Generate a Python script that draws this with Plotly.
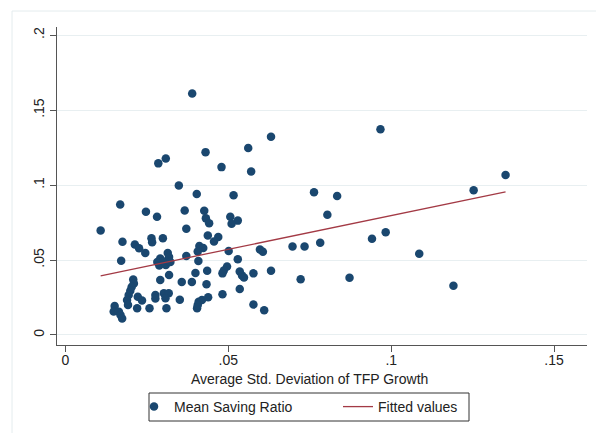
import plotly.graph_objects as go

# Mean Saving Ratio vs Average Std. Deviation of TFP Growth
tfp_sd = [
    0.0389, 0.0967, 0.0631, 0.0561, 0.0430, 0.0308, 0.0285, 0.0479, 0.0570, 0.1351,
    0.0348, 0.1253, 0.0763, 0.0403, 0.0516, 0.0834, 0.0168, 0.0366, 0.0426, 0.0247,
    0.0804, 0.0281, 0.0506, 0.0431, 0.0529, 0.0441, 0.0510, 0.0371, 0.0108, 0.0437,
    0.0469, 0.0456, 0.0264, 0.0266, 0.0299, 0.0175, 0.0213, 0.0226, 0.0245, 0.0411,
    0.0423, 0.0406, 0.0501, 0.0597, 0.0606, 0.0697, 0.0734, 0.0782, 0.0941, 0.0983,
    0.1086, 0.0371, 0.0529, 0.0408, 0.0171, 0.0314, 0.0318, 0.0291, 0.0282, 0.0301,
    0.0288, 0.0308, 0.0322, 0.0496, 0.0486, 0.0482, 0.0435, 0.0399, 0.0535, 0.0542,
    0.0548, 0.0577, 0.0631, 0.0318, 0.0291, 0.0357, 0.0388, 0.0433, 0.0535, 0.0722,
    0.0872, 0.1191, 0.0208, 0.0210, 0.0203, 0.0199, 0.0194, 0.0189, 0.0192, 0.0222,
    0.0235, 0.0276, 0.0276, 0.0302, 0.0317, 0.0307, 0.0351, 0.0409, 0.0419, 0.0438,
    0.0404, 0.0406, 0.0482, 0.0577, 0.0610, 0.0151, 0.0148, 0.0164, 0.0169, 0.0174,
    0.0220, 0.0258, 0.0310,
]
saving_ratio = [
    0.1611, 0.1373, 0.1322, 0.1247, 0.1220, 0.1178, 0.1145, 0.1120, 0.1091, 0.1067,
    0.0998, 0.0965, 0.0953, 0.0940, 0.0933, 0.0927, 0.0871, 0.0831, 0.0829, 0.0822,
    0.0802, 0.0789, 0.0789, 0.0778, 0.0763, 0.0745, 0.0742, 0.0709, 0.0697, 0.0663,
    0.0653, 0.0623, 0.0645, 0.0618, 0.0645, 0.0622, 0.0603, 0.0578, 0.0547, 0.0593,
    0.0580, 0.0557, 0.0560, 0.0571, 0.0555, 0.0591, 0.0591, 0.0615, 0.0642, 0.0685,
    0.0542, 0.0527, 0.0505, 0.0493, 0.0495, 0.0547, 0.0520, 0.0510, 0.0487, 0.0490,
    0.0463, 0.0467, 0.0487, 0.0457, 0.0430, 0.0411, 0.0429, 0.0413, 0.0423, 0.0397,
    0.0383, 0.0411, 0.0429, 0.0400, 0.0367, 0.0353, 0.0353, 0.0339, 0.0307, 0.0371,
    0.0382, 0.0329, 0.0370, 0.0343, 0.0320, 0.0295, 0.0267, 0.0233, 0.0200, 0.0255,
    0.0230, 0.0267, 0.0243, 0.0278, 0.0278, 0.0245, 0.0235, 0.0222, 0.0233, 0.0251,
    0.0178, 0.0200, 0.0272, 0.0203, 0.0165, 0.0193, 0.0157, 0.0155, 0.0133, 0.0110,
    0.0178, 0.0178, 0.0178,
]

# Fitted values line (end points)
fit_x = [0.0108, 0.1351]
fit_y = [0.0395, 0.0955]

x_ticks = [0, 0.05, 0.1, 0.15]
x_tick_labels = ["0", ".05", ".1", ".15"]
y_ticks = [0, 0.05, 0.1, 0.15, 0.2]
y_tick_labels = ["0", ".05", ".1", ".15", ".2"]
x_title = "Average Std. Deviation of TFP Growth"

FONT = "Liberation Sans, Arial, Helvetica, sans-serif"
FS = 14
TXT = "#222"
NAVY = "#1a476f"
MAROON = "#a33a45"

fig = go.Figure()
fig.add_trace(go.Scatter(
    x=tfp_sd, y=saving_ratio, mode="markers", name="Mean Saving Ratio",
    marker=dict(color=NAVY, size=8.5, line=dict(width=0)),
))
fig.add_trace(go.Scatter(
    x=fit_x, y=fit_y, mode="lines", name="Fitted values",
    line=dict(color=MAROON, width=1.3),
))

L, R, T, B = 57, 9, 27, 88
W, H = 596, 433
pw, ph = W - L - R, H - T - B


def px_x(p):
    return (p - L) / pw


def px_y(p):
    return (H - B - p) / ph


fig.update_layout(
    width=W, height=H,
    margin=dict(l=L, r=R, t=T, b=B, pad=0),
    paper_bgcolor="white", plot_bgcolor="white",
    font=dict(family=FONT, size=FS, color=TXT),
    showlegend=True,
    legend=dict(
        orientation="h", x=px_x(134), xanchor="left",
        y=px_y(407), yanchor="middle",
        borderwidth=0, bgcolor="rgba(0,0,0,0)",
        font=dict(family=FONT, size=FS, color=TXT),
        itemwidth=30, entrywidth=159, entrywidthmode="pixels",
    ),
    xaxis=dict(
        range=[-0.0026, 0.1601], tickvals=x_ticks, ticktext=x_tick_labels,
        showgrid=False, zeroline=False, showline=True, linecolor="#555", linewidth=1,
        ticks="outside", ticklen=6, tickcolor="#555", tickwidth=1,
        ticklabelstandoff=-4,
        tickfont=dict(family=FONT, size=FS, color=TXT),
    ),
    yaxis=dict(
        range=[-0.0067, 0.2055], tickvals=y_ticks, ticktext=y_tick_labels,
        showgrid=True, gridcolor="#e8eff1", gridwidth=1,
        zeroline=False, showline=True, linecolor="#555", linewidth=1,
        ticks="outside", ticklen=6, tickcolor="#555", tickwidth=1,
        tickangle=-90, tickfont=dict(family=FONT, size=FS, color=TXT),
    ),
    annotations=[dict(
        text=x_title, xref="paper", yref="paper", x=px_x(309.7), y=px_y(378.5),
        xanchor="center", yanchor="middle", showarrow=False,
        font=dict(family=FONT, size=FS, color=TXT),
    )],
    shapes=[
        dict(type="rect", xref="paper", yref="paper", layer="below",
             x0=px_x(12), x1=1.2, y0=-0.5, y1=px_y(11),
             line=dict(color="#e4ecee", width=1), fillcolor="rgba(0,0,0,0)"),
        dict(type="rect", xref="paper", yref="paper", layer="above",
             x0=px_x(149), x1=px_x(469), y0=px_y(421), y1=px_y(393),
             line=dict(color="#333", width=1), fillcolor="rgba(0,0,0,0)"),
    ],
)

fig.write_html("out.html")
